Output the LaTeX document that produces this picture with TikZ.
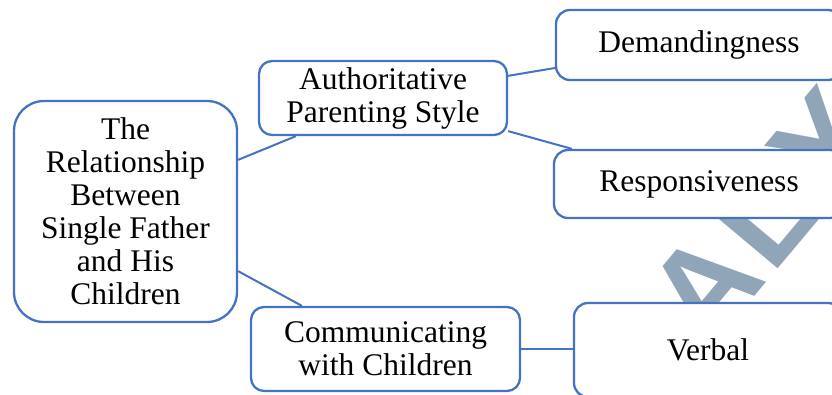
\documentclass[tikz,border=0pt]{standalone}
\usepackage{fontspec}
\setmainfont{Liberation Serif}
\newfontfamily\wmfont{Liberation Sans}
\definecolor{bx}{RGB}{68,114,196}
\definecolor{wm}{RGB}{145,165,185}
\begin{document}
\begin{tikzpicture}[x=1pt,y=-1pt,
  box/.style={draw=bx, line width=2.3pt, fill=white, align=center, inner sep=0pt,
    font=\fontsize{31.5}{33}\selectfont},
  link/.style={draw=bx, line width=2pt}]
\useasboundingbox (0,0) rectangle (832,395);
\clip (0,0) rectangle (832,395);
\node[rotate=50, anchor=base west, inner sep=0pt, text=wm,
  font=\wmfont\bfseries\fontsize{130}{130}\selectfont] (wm) at (708,352) {A\kern6pt L\kern12pt Y};
\node[box, rounded corners=30pt, minimum width=223pt, minimum height=221pt] (main) at (125.5,211.5)
  {The\\Relationship\\Between\\Single Father\\and His\\Children};
\node[box, rounded corners=13pt, minimum width=248pt, minimum height=74pt] (auth) at (383,98)
  {Authoritative\\Parenting Style};
\node[box, rounded corners=14pt, minimum width=286pt, minimum height=70pt] (dem) at (699,45)
  {Demandingness};
\node[box, rounded corners=14pt, minimum width=290pt, minimum height=68pt] (resp) at (699,184)
  {Responsiveness};
\node[box, rounded corners=13pt, minimum width=269pt, minimum height=84pt] (comm) at (385.5,349)
  {Communicating\\with Children};
\node[box, rounded corners=14pt, minimum width=268pt, minimum height=94pt] (verb) at (708,350)
  {Verbal};
\draw[link] ([yshift=-60pt]main.north east) -- ([xshift=38pt]auth.south west);
\draw[link] ([yshift=52pt]main.south east) -- ([xshift=52pt]comm.north west);
\draw[link] ([yshift=-16pt]auth.north east) -- ([yshift=-23pt]dem.west);
\draw[link] ([yshift=5pt]auth.south east) -- ([xshift=19pt]resp.north west);
\draw[link] (comm.east) -- (comm.east -| verb.west);
\end{tikzpicture}
\end{document}
